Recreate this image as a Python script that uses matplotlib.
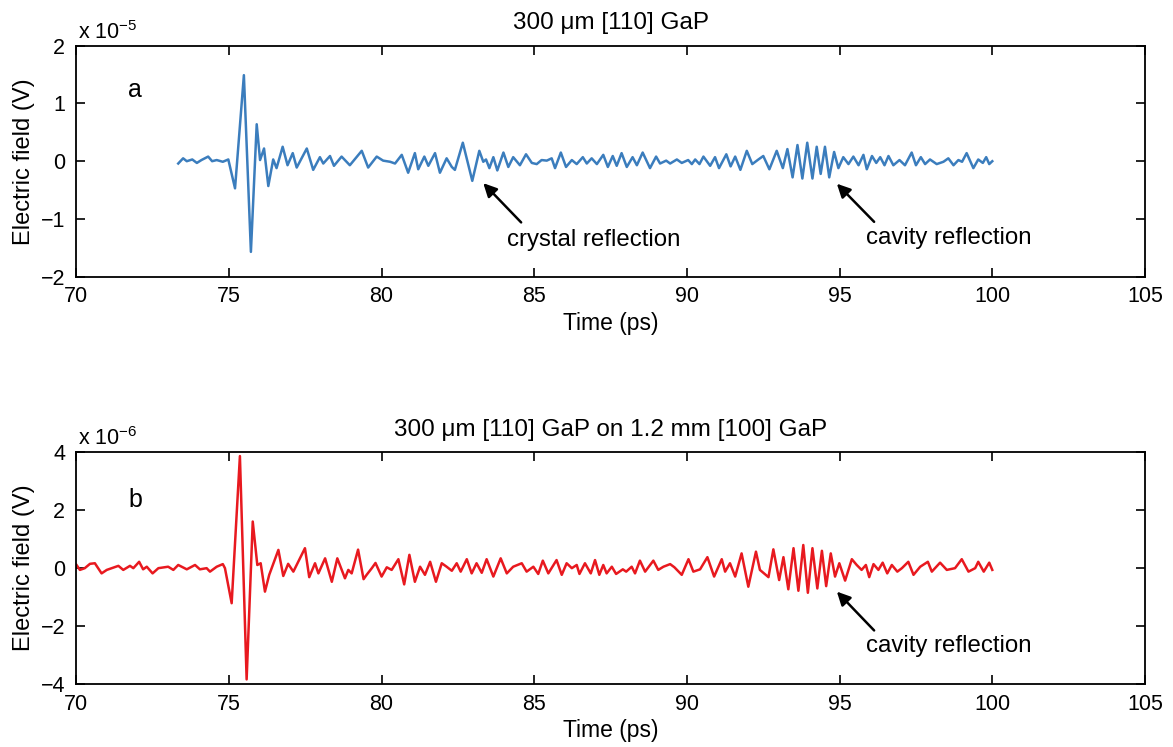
import matplotlib
matplotlib.use("Agg")
import matplotlib.pyplot as plt
import numpy as np

plt.rcParams['font.family'] = ['Liberation Sans', 'DejaVu Sans']
plt.rcParams['mathtext.fontset'] = 'custom'
plt.rcParams['mathtext.rm'] = 'Liberation Sans'

# panel a: 300 um [110] GaP  (time in ps, field in units of 1e-5 V)
t_a = [73.34, 73.50, 73.62, 73.80, 73.95, 74.10, 74.32, 74.45, 74.60, 74.80, 74.98,
       75.20, 75.49, 75.72, 75.91, 76.02, 76.15, 76.29, 76.45, 76.56, 76.76, 76.92,
       77.09, 77.22, 77.55, 77.76, 77.98, 78.09, 78.31, 78.44, 78.69, 78.96, 79.35,
       79.56, 79.84, 80.05, 80.28, 80.44, 80.66, 80.87, 81.09, 81.20, 81.40, 81.53,
       81.75, 81.91, 82.13, 82.30, 82.40, 82.66, 82.97, 83.20, 83.33, 83.42, 83.53,
       83.66, 83.79, 83.99, 84.15, 84.31, 84.53, 84.73, 84.92, 85.08, 85.24, 85.41,
       85.57, 85.68, 85.87, 86.04, 86.23, 86.39, 86.59, 86.72, 86.88, 87.05, 87.26,
       87.41, 87.57, 87.70, 87.86, 88.03, 88.22, 88.36, 88.55, 88.79, 88.99, 89.12,
       89.32, 89.45, 89.67, 89.83, 90.04, 90.16, 90.27, 90.41, 90.54, 90.76, 90.92,
       91.05, 91.29, 91.43, 91.58, 91.75, 91.96, 92.14, 92.34, 92.50, 92.70, 92.94,
       93.14, 93.29, 93.46, 93.62, 93.78, 93.94, 94.11, 94.25, 94.38, 94.52, 94.66,
       94.82, 94.96, 95.12, 95.29, 95.45, 95.62, 95.78, 95.89, 96.06, 96.20, 96.33,
       96.47, 96.60, 96.76, 96.96, 97.14, 97.36, 97.50, 97.66, 97.80, 97.96, 98.18,
       98.40, 98.56, 98.73, 98.89, 99.01, 99.16, 99.38, 99.54, 99.69, 99.80, 99.90,
       100.00]
e_a = [-0.04, 0.05, 0.00, 0.03, -0.03, 0.02, 0.08, 0.00, 0.02, -0.01, 0.03,
       -0.47, 1.49, -1.57, 0.64, 0.02, 0.22, -0.43, 0.03, -0.12, 0.25, -0.07,
       0.14, -0.11, 0.22, -0.15, 0.07, -0.04, 0.09, -0.08, 0.08, -0.07, 0.18,
       -0.11, 0.08, 0.01, -0.01, -0.04, 0.11, -0.20, 0.14, -0.14, 0.08, -0.08,
       0.14, -0.20, 0.05, -0.10, -0.15, 0.32, -0.34, 0.18, -0.01, 0.03, -0.12,
       0.07, -0.16, 0.15, -0.10, 0.07, -0.07, 0.12, -0.03, -0.05, 0.02, 0.01,
       0.05, -0.12, 0.15, -0.10, 0.02, -0.05, 0.07, -0.04, 0.05, -0.05, 0.11,
       -0.10, 0.09, -0.08, 0.14, -0.10, 0.07, -0.07, 0.15, -0.12, 0.08, -0.04,
       0.01, -0.04, 0.03, -0.03, 0.02, -0.05, 0.03, -0.05, 0.08, -0.08, 0.07,
       -0.12, 0.12, -0.09, 0.08, -0.15, 0.18, -0.05, 0.03, 0.09, -0.14, 0.18,
       -0.12, 0.21, -0.28, 0.28, -0.30, 0.32, -0.30, 0.25, -0.22, 0.25, -0.28,
       0.16, -0.12, 0.07, -0.05, 0.08, -0.07, 0.11, -0.14, 0.09, -0.03, 0.07,
       -0.07, 0.09, -0.07, 0.02, -0.07, 0.15, -0.07, 0.07, -0.05, 0.03, -0.05,
       -0.01, 0.05, -0.07, 0.02, -0.01, 0.14, -0.12, 0.03, -0.03, 0.07, -0.05,
       0.00]

# panel b: 300 um [110] GaP on 1.2 mm [100] GaP  (field in units of 1e-6 V)
t_b = [70.01, 70.12, 70.28, 70.45, 70.61, 70.83, 71.00, 71.16, 71.38, 71.54, 71.76,
       71.87, 72.06, 72.19, 72.31, 72.50, 72.69, 73.01, 73.18, 73.34, 73.62, 73.89,
       74.05, 74.27, 74.38, 74.60, 74.80, 74.87, 75.09, 75.36, 75.58, 75.78, 75.93,
       76.04, 76.18, 76.32, 76.62, 76.78, 76.94, 77.11, 77.49, 77.63, 77.82, 77.93,
       78.15, 78.37, 78.55, 78.80, 78.91, 79.02, 79.23, 79.41, 79.51, 79.68, 79.80,
       80.00, 80.17, 80.33, 80.55, 80.74, 80.91, 81.09, 81.26, 81.42, 81.59, 81.78,
       81.97, 82.13, 82.30, 82.46, 82.59, 82.79, 82.95, 83.11, 83.28, 83.44, 83.66,
       83.90, 84.10, 84.31, 84.59, 84.75, 84.97, 85.13, 85.28, 85.46, 85.73, 85.90,
       86.06, 86.23, 86.39, 86.48, 86.66, 86.85, 86.99, 87.13, 87.26, 87.37, 87.54,
       87.68, 87.90, 88.01, 88.19, 88.30, 88.46, 88.63, 88.90, 89.06, 89.23, 89.45,
       89.59, 89.83, 90.05, 90.21, 90.43, 90.67, 90.89, 91.14, 91.25, 91.41, 91.58,
       91.79, 92.01, 92.26, 92.39, 92.67, 92.83, 93.02, 93.16, 93.32, 93.49, 93.65,
       93.81, 93.96, 94.11, 94.27, 94.42, 94.56, 94.71, 94.85, 94.99, 95.18, 95.40,
       95.56, 95.72, 95.86, 95.97, 96.11, 96.27, 96.41, 96.56, 96.71, 96.89, 97.04,
       97.25, 97.42, 97.64, 97.89, 98.02, 98.29, 98.51, 98.78, 99.00, 99.22, 99.44,
       99.54, 99.72, 99.90, 100.00]
e_b = [0.11, -0.06, 0.00, 0.15, 0.17, -0.18, -0.06, 0.00, 0.08, -0.06, 0.08,
       0.00, 0.22, -0.04, 0.05, -0.18, 0.00, 0.05, -0.06, 0.11, -0.04, 0.11,
       -0.04, 0.00, -0.12, 0.05, 0.14, 0.00, -1.21, 3.87, -3.84, 1.61, 0.11,
       0.17, -0.81, -0.23, 0.63, -0.27, 0.15, -0.12, 0.69, -0.31, 0.17, -0.18,
       0.34, -0.47, 0.34, -0.35, -0.06, -0.18, 0.64, -0.38, -0.23, 0.00, 0.18,
       -0.29, 0.03, -0.06, 0.31, -0.56, 0.46, -0.47, 0.05, -0.23, 0.22, -0.47,
       0.17, 0.05, -0.09, 0.17, -0.12, 0.31, -0.18, 0.17, -0.16, 0.31, -0.29,
       0.34, -0.18, 0.05, 0.17, -0.12, 0.05, -0.20, 0.26, -0.18, 0.28, -0.23,
       0.17, 0.00, 0.11, -0.20, 0.17, -0.18, 0.28, -0.23, 0.11, -0.18, 0.05,
       -0.20, -0.04, -0.12, 0.05, -0.18, 0.26, -0.12, 0.26, -0.06, 0.05, 0.14,
       0.03, -0.23, 0.31, -0.12, -0.04, 0.38, -0.29, 0.31, -0.12, 0.17, -0.29,
       0.51, -0.64, 0.57, -0.06, -0.31, 0.65, -0.41, 0.38, -0.73, 0.69, -0.78,
       0.80, -0.85, 0.69, -0.70, 0.60, -0.62, 0.51, -0.29, 0.17, -0.43, 0.31,
       0.11, -0.06, 0.11, -0.31, 0.14, -0.06, 0.19, -0.18, 0.11, -0.12, 0.00,
       0.22, -0.23, 0.05, 0.22, -0.12, 0.19, -0.06, 0.00, 0.31, -0.12, 0.00,
       0.22, -0.12, 0.19, -0.06]

fig = plt.figure(figsize=(11.73, 7.47), dpi=100)
ax1 = fig.add_axes([0.065, 0.6296, 0.9111, 0.3092])
ax2 = fig.add_axes([0.065, 0.0843, 0.9111, 0.3102])

ax1.plot(t_a, e_a, color='#3b7dbd', lw=1.8, solid_joinstyle='round')
ax2.plot(t_b, e_b, color='#e8191f', lw=1.8, solid_joinstyle='round')

ax1.set_ylim(-2, 2)
ax1.set_yticks([-2, -1, 0, 1, 2])
ax2.set_ylim(-4, 4)
ax2.set_yticks([-4, -2, 0, 2, 4])

for ax in (ax1, ax2):
    ax.set_xlim(70, 105)
    ax.set_xticks(range(70, 106, 5))
    ax.tick_params(direction='in', top=True, right=True, length=6.5, width=1.2,
                   labelsize=15.5)
    ax.tick_params(axis='x', pad=7)
    ax.tick_params(axis='y', pad=8)
    for s in ax.spines.values():
        s.set_linewidth(1.3)
    ax.set_xlabel('Time (ps)', fontsize=16.5, labelpad=3)
    ax.set_ylabel('Electric field (V)', fontsize=17, labelpad=4)

ax1.set_title('300 μm [110] GaP', fontsize=17.5, pad=12)
ax2.set_title('300 μm [110] GaP on 1.2 mm [100] GaP', fontsize=17.5, pad=12)

ax1.text(0.002, 1.03, r'x $\mathregular{10^{-5}}$', transform=ax1.transAxes, fontsize=15.5)
ax2.text(0.002, 1.03, r'x $\mathregular{10^{-6}}$', transform=ax2.transAxes, fontsize=15.5)

ax1.text(71.7, 1.23, 'a', fontsize=18, va='center')
ax2.text(71.7, 2.35, 'b', fontsize=18, va='center')

arrow = dict(arrowstyle='-|>', color='k', lw=1.8, mutation_scale=20, shrinkA=0, shrinkB=0)
ax1.annotate('', xy=(83.33, -0.38), xytext=(84.57, -1.06), arrowprops=arrow)
ax1.text(84.11, -1.36, 'crystal reflection', fontsize=17.3, va='center')
ax1.annotate('', xy=(94.91, -0.39), xytext=(96.13, -1.05), arrowprops=arrow)
ax1.text(95.86, -1.33, 'cavity reflection', fontsize=17.3, va='center')
ax2.annotate('', xy=(94.91, -0.81), xytext=(96.13, -2.15), arrowprops=arrow)
ax2.text(95.86, -2.69, 'cavity reflection', fontsize=17.3, va='center')

fig.savefig('out.png', dpi=100)
